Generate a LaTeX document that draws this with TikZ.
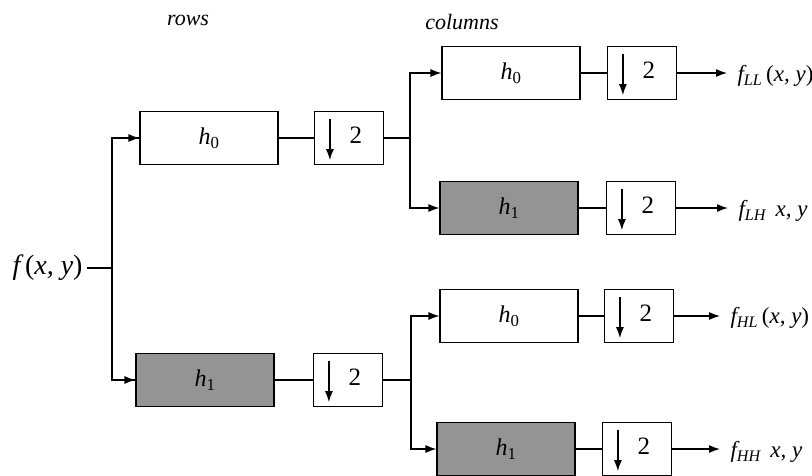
\documentclass[tikz,border=0pt]{standalone}
\usepackage{fontspec}
\setmainfont{Liberation Serif}
\usetikzlibrary{arrows.meta,calc}
\newcommand{\hh}[1]{{\itshape h}\textsubscript{#1}}
\newcommand{\fout}[2]{{\itshape f}\textsubscript{\itshape #1}\,#2}
\begin{document}
\begin{tikzpicture}[x=1pt,y=-1pt,
  line width=1.2pt,
  filt/.style={draw, minimum width=138pt, minimum height=53pt, inner sep=0pt, font=\fontsize{24}{28}\selectfont},
  shade/.style={filt, fill=black!42},
  dsbox/.style={draw, minimum width=69pt, minimum height=53pt, inner sep=0pt},
  arr/.style={-{Latex[length=11pt,width=8pt]}},
  lbl/.style={font=\fontsize{28}{32}\selectfont, inner sep=0pt},
  olbl/.style={font=\fontsize{23}{27}\selectfont, inner sep=0pt},
  head/.style={font=\fontsize{22}{26}\selectfont\itshape, inner sep=0pt}]
\useasboundingbox (0,0) rectangle (812,475);
\clip (0,0) rectangle (812,475);
\fill[white] (0,0) rectangle (812,475);
% headings
\node[head] (rows) at (188,20) {rows};
\node[head] (cols) at (462,22) {columns};
% input
\node[lbl, anchor=west] (in) at (12,268) {{\itshape f}\,(\itshape x, y\/\upshape)};
\coordinate (s1) at (112,268);
% row filters
\node[filt] (r0) at (209,138) {\hh{0}};
\node[shade] (r1) at (205,380) {\hh{1}};
\node[dsbox] (rd0) at (349,138) {};
\node[dsbox] (rd1) at (348,380) {};
\coordinate (s2) at (410,138);
\coordinate (s3) at (411,380);
% column filters
\node[filt] (c00) at (511,73) {\hh{0}};
\node[shade] (c01) at (509,208) {\hh{1}};
\node[filt] (c10) at (509,316) {\hh{0}};
\node[shade] (c11) at (506,449) {\hh{1}};
\node[dsbox] (cd00) at (642,73) {};
\node[dsbox] (cd01) at (641,208) {};
\node[dsbox] (cd10) at (639,316) {};
\node[dsbox] (cd11) at (637,449) {};
% down-sampler contents
\foreach \b in {rd0,rd1,cd00,cd01,cd10,cd11}{
  \draw[arr] ($(\b.north west)+(16,8)$) -- ($(\b.south west)+(16,-5)$);
  \node[font=\fontsize{25}{28}\selectfont, inner sep=0pt] at ($(\b.west)+(42,-3)$) {2};
}
% outputs
\node[olbl, anchor=west] (o00) at (737,76) {\fout{LL}{(\itshape x, y\upshape)}};
\node[olbl, anchor=west] (o01) at (738,211) {\fout{LH}{\itshape\ x, y}};
\node[olbl, anchor=west] (o10) at (730,318) {\fout{HL}{(\itshape x, y\upshape)}};
\node[olbl, anchor=west] (o11) at (730,452) {\fout{HH}{\itshape\ x, y}};
% connectors
\draw (in.east) ++(4,0) -- (s1);
\draw (s1) |- (r0.west);
\draw (s1) |- (r1.west);
\draw[arr] (s1 |- r0.west) -- (r0.west);
\draw[arr] (s1 |- r1.west) -- (r1.west);
\draw (r0) -- (rd0);
\draw (r1) -- (rd1);
\draw (rd0.east) -- (s2);
\draw (rd1.east) -- (s3);
\draw[arr] (s2) |- (c00.west);
\draw[arr] (s2) |- (c01.west);
\draw[arr] (s3) |- (c10.west);
\draw[arr] (s3) |- (c11.west);
\draw (c00) -- (cd00);
\draw (c01) -- (cd01);
\draw (c10) -- (cd10);
\draw (c11) -- (cd11);
\draw[arr] (cd00.east) -- ($(o00.west |- cd00.east)+(-10,0)$);
\draw[arr] (cd01.east) -- ($(o01.west |- cd01.east)+(-10,0)$);
\draw[arr] (cd10.east) -- ($(o10.west |- cd10.east)+(-10,0)$);
\draw[arr] (cd11.east) -- ($(o11.west |- cd11.east)+(-10,0)$);
\end{tikzpicture}
\end{document}
